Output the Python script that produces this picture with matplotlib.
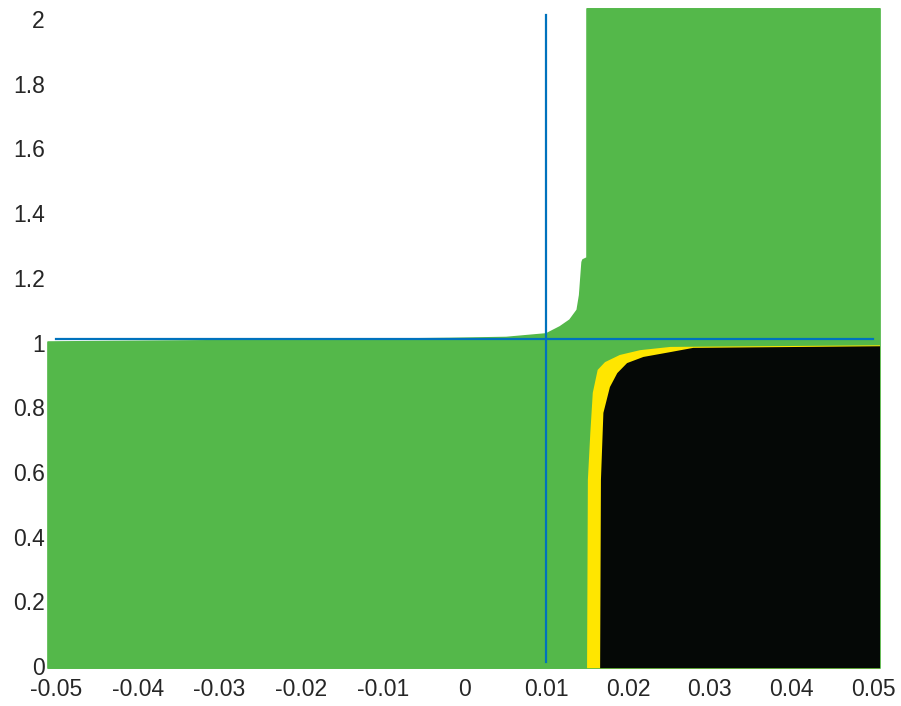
import matplotlib
matplotlib.use("Agg")
import matplotlib.pyplot as plt
from matplotlib.patches import Polygon
from matplotlib.transforms import ScaledTranslation
import numpy as np

plt.rcParams["font.family"] = ["Liberation Sans", "DejaVu Sans"]
plt.rcParams["axes.unicode_minus"] = False

GREEN = "#54b84a"
YELLOW = "#ffe600"
BLACK = "#050806"
BLUE = "#0072bd"
TEXT = "#262626"

# plotted extent of the filled regions (they spill a little past the limits)
X_OUT = (-0.05098, 0.05086)
Y_OUT = (-0.019, 2.019)

# upper edge of the green area, left to right (white above it)
green_edge_x = [-0.05098, -0.0201, -0.0018, 0.0051, 0.0100, 0.0117, 0.0129,
                0.0138, 0.0141, 0.0144, 0.0145, 0.0150, 0.0150]
green_edge_y = [0.989, 0.995, 1.000, 1.003, 1.014, 1.036, 1.057,
                1.088, 1.134, 1.236, 1.243, 1.249, 2.019]

# outer edge of the yellow band (bottom to right)
yellow_edge_x = [0.0150, 0.0151, 0.0154, 0.0157, 0.0163, 0.0172, 0.0190,
                 0.0215, 0.0252, 0.05086]
yellow_edge_y = [-0.019, 0.563, 0.708, 0.832, 0.903, 0.927, 0.949,
                 0.964, 0.974, 0.979]

# outer edge of the black block
black_edge_x = [0.0166, 0.0167, 0.0170, 0.0178, 0.0187, 0.0199, 0.0219,
                0.0252, 0.0280, 0.05086]
black_edge_y = [-0.019, 0.563, 0.770, 0.850, 0.893, 0.924, 0.943,
                0.958, 0.971, 0.976]

# reference lines
vline_x = 0.01
vline_y = [0.0, 2.0]
hline_y = 1.0
hline_x = [-0.05, 0.05]

x_ticks = [-0.05, -0.04, -0.03, -0.02, -0.01, 0, 0.01, 0.02, 0.03, 0.04, 0.05]
x_labels = ["-0.05", "-0.04", "-0.03", "-0.02", "-0.01", "0",
            "0.01", "0.02", "0.03", "0.04", "0.05"]
y_ticks = [0, 0.2, 0.4, 0.6, 0.8, 1, 1.2, 1.4, 1.6, 1.8, 2]
y_labels = ["0", "0.2", "0.4", "0.6", "0.8", "1", "1.2", "1.4", "1.6", "1.8", "2"]


def region(edge_x, edge_y, closing):
    pts = list(zip(edge_x, edge_y)) + closing
    return np.array(pts)


fig = plt.figure(figsize=(9.01, 7.06), dpi=100)
ax = fig.add_axes([0.06215, 0.06232, 0.90678, 0.91643])

green_pts = region(
    green_edge_x[::-1], green_edge_y[::-1],
    [(X_OUT[0], Y_OUT[0]), (X_OUT[1], Y_OUT[0]), (X_OUT[1], Y_OUT[1])],
)
ax.add_patch(Polygon(green_pts, closed=True, facecolor=GREEN, edgecolor=GREEN,
                     linewidth=1.2, joinstyle="round", clip_on=False, zorder=1))

yellow_pts = region(yellow_edge_x, yellow_edge_y, [(X_OUT[1], Y_OUT[0])])
ax.add_patch(Polygon(yellow_pts, closed=True, facecolor=YELLOW, edgecolor="none",
                     clip_on=False, zorder=1.1))

black_pts = region(black_edge_x, black_edge_y, [(X_OUT[1], Y_OUT[0])])
ax.add_patch(Polygon(black_pts, closed=True, facecolor=BLACK, edgecolor="none",
                     clip_on=False, zorder=1.2))

ax.plot([vline_x, vline_x], vline_y, color=BLUE, linewidth=1.6, zorder=3,
        clip_on=False)
ax.plot(hline_x, [hline_y, hline_y], color=BLUE, linewidth=1.6, zorder=3,
        clip_on=False)

ax.set_xlim(-0.05, 0.05)
ax.set_ylim(0, 2)
for side in ax.spines.values():
    side.set_visible(False)
ax.tick_params(axis="both", length=0, labelsize=16.5, labelcolor=TEXT)
ax.tick_params(axis="x", pad=11.5)
ax.tick_params(axis="y", pad=8)
ax.set_xticks(x_ticks, x_labels)
ax.set_yticks(y_ticks, y_labels)

# the y labels sit a few pixels under their tick positions in the original
shift = ScaledTranslation(0, -0.04, fig.dpi_scale_trans)
for lab in ax.get_yticklabels():
    lab.set_transform(lab.get_transform() + shift)

fig.savefig("out.png", dpi=100)
